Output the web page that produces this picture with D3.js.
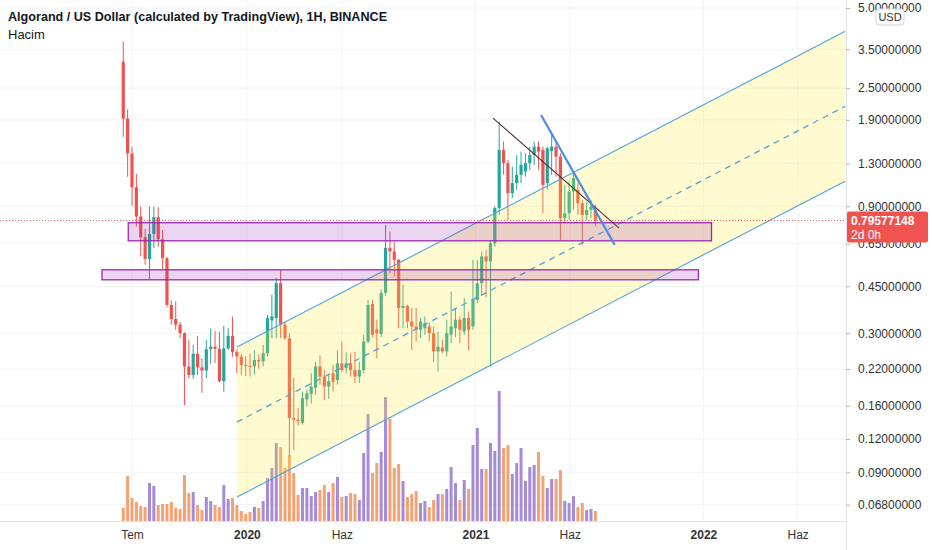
<!DOCTYPE html>
<html>
<head>
<meta charset="utf-8">
<script src="https://cdn.jsdelivr.net/npm/d3@7"></script>
<style>
  body { margin: 0; background: #fff; }
  svg { display: block; font-family: "Liberation Sans", Arial, sans-serif; }
</style>
</head>
<body>
<div class="chart"></div>
<script>
// weekly ALGO/USD candles, first week starting 2019-06-17
const firstWeek = "2019-06-17";
const opens = [3.14,1.92,1.42,1.06,0.823,0.688,0.570,0.708,0.819,0.676,0.574,0.383,0.339,0.323,0.300,0.225,0.209,0.251,0.223,0.217,
  0.261,0.267,0.262,0.198,0.263,0.293,0.255,0.245,0.228,0.226,0.225,0.238,0.235,0.252,0.335,0.342,0.462,0.323,0.287,0.144,
  0.142,0.138,0.169,0.177,0.187,0.225,0.206,0.189,0.212,0.200,0.231,0.222,0.231,0.218,0.206,0.218,0.279,0.386,0.310,0.298,
  0.425,0.628,0.608,0.566,0.373,0.380,0.332,0.318,0.309,0.313,0.318,0.300,0.256,0.265,0.256,0.296,0.313,0.337,0.304,0.342,
  0.318,0.400,0.462,0.583,0.558,0.653,0.887,1.465,1.306,1.008,1.099,1.180,1.215,1.306,1.402,1.507,1.465,1.099,1.450,1.507,
  1.382,0.812,0.847,1.022,1.037,0.924,0.834,0.872,0.872];
const highs = [3.74,2.08,1.50,1.19,0.897,0.738,0.897,0.897,0.892,0.733,0.580,0.398,0.395,0.330,0.302,0.283,0.271,0.293,0.241,0.283,
  0.312,0.305,0.304,0.320,0.313,0.346,0.262,0.250,0.246,0.251,0.259,0.250,0.271,0.352,0.418,0.483,0.519,0.332,0.300,0.204,
  0.157,0.181,0.184,0.212,0.234,0.248,0.218,0.209,0.228,0.259,0.279,0.254,0.252,0.255,0.234,0.296,0.400,0.400,0.337,0.437,
  0.766,0.723,0.662,0.570,0.456,0.383,0.373,0.373,0.342,0.347,0.328,0.318,0.304,0.283,0.337,0.430,0.373,0.347,0.406,0.362,
  0.566,0.566,0.608,0.617,0.673,0.897,1.871,1.574,1.344,1.268,1.402,1.443,1.423,1.507,1.574,1.574,1.507,1.507,1.693,1.552,
  1.423,1.082,1.115,1.208,1.099,0.951,0.937,0.951,0.911];
const lows = [1.64,1.16,0.902,0.755,0.583,0.542,0.476,0.626,0.634,0.522,0.376,0.323,0.309,0.287,0.161,0.203,0.202,0.209,0.179,0.203,
  0.230,0.232,0.196,0.181,0.259,0.245,0.212,0.209,0.207,0.206,0.209,0.221,0.225,0.245,0.287,0.287,0.287,0.283,0.103,0.109,
  0.135,0.136,0.159,0.163,0.176,0.192,0.168,0.170,0.181,0.192,0.214,0.212,0.206,0.195,0.195,0.212,0.275,0.290,0.241,0.290,
  0.415,0.504,0.490,0.313,0.313,0.313,0.259,0.279,0.287,0.296,0.279,0.234,0.215,0.252,0.245,0.275,0.290,0.275,0.296,0.259,
  0.309,0.390,0.415,0.409,0.2245,0.634,0.834,1.180,0.800,0.965,1.037,1.099,1.163,1.233,1.287,1.233,0.847,1.037,1.180,1.163,
  0.673,0.778,0.800,0.872,0.834,0.644,0.800,0.812,0.755];
const closes = [1.92,1.42,1.06,0.823,0.688,0.570,0.708,0.819,0.676,0.574,0.383,0.339,0.323,0.300,0.225,0.209,0.251,0.223,0.217,0.261,
  0.267,0.262,0.198,0.263,0.293,0.255,0.245,0.228,0.226,0.225,0.238,0.235,0.252,0.342,0.347,0.462,0.323,0.287,0.144,0.142,
  0.140,0.171,0.178,0.189,0.225,0.206,0.189,0.198,0.197,0.231,0.218,0.231,0.218,0.206,0.218,0.279,0.383,0.296,0.300,0.425,
  0.628,0.608,0.566,0.373,0.380,0.332,0.318,0.309,0.332,0.328,0.300,0.256,0.267,0.256,0.300,0.318,0.337,0.309,0.342,0.309,
  0.400,0.462,0.583,0.558,0.653,0.887,1.465,1.306,1.008,1.099,1.180,1.287,1.306,1.402,1.507,1.443,1.082,1.486,1.507,1.382,
  0.812,0.847,1.022,1.147,0.924,0.834,0.872,0.897,0.79577148];
// volume, millions
const volumes = [13,45,23,19,15,14,38,35,16,17,17,19,13,12,46,28,29,16,11,24,
  20,16,14,36,22,23,16,10,7,9,14,13,20,43,53,78,74,53,66,48,
  26,33,33,25,29,31,36,29,38,44,24,25,28,27,21,68,107,48,58,69,
  124,102,53,57,40,24,27,30,18,20,14,21,27,27,32,54,38,21,41,32,
  76,93,52,52,78,70,130,73,76,47,58,73,40,54,56,69,45,33,42,42,
  51,20,18,25,14,18,11,12,10];

const priceTicks = [5, 3.5, 2.5, 1.9, 1.3, 0.9, 0.65, 0.45, 0.3, 0.22, 0.16, 0.12, 0.09, 0.068];
const timeTicks = ["2019-07-01","2020-01-01","2020-06-01","2021-01-01","2021-06-01","2022-01-01","2022-06-01"];
const timeLabels = ["Tem","2020","Haz","2021","Haz","2022","Haz"];
const lastPrice = 0.79577148;

// drawings
const channelDates = ["2019-12-16","2022-08-16"];
const channelUpper = [0.266, 4.085];
const channelMid = [0.139, 2.136];
const channelLower = [0.0727, 1.117];
const zoneDates = [["2019-06-25","2022-01-14"],["2019-05-14","2021-12-24"]];
const zonePrices = [[0.780, 0.667],[0.519, 0.476]];
const darkLineDates = ["2021-01-29","2021-08-19"];
const darkLinePrices = [1.927, 0.744];
const blueLineDates = ["2021-04-16","2021-08-12"];
const blueLinePrices = [1.982, 0.644];

const W = 932, H = 550, plotR = 846, plotB = 521;
const parse = d3.utcParse("%Y-%m-%d");

const svg = d3.select(".chart").append("svg")
    .attr("width", W)
    .attr("height", H);

const x = d3.scaleUtc()
    .domain([parse("2019-07-01"), parse("2022-06-01")])
    .range([132, 797.7]);

const y = d3.scaleLog()
    .domain([0.068, 5])
    .range([504.7, 8]);

const v = d3.scaleLinear()
    .domain([0, d3.max(volumes)])
    .range([plotB, 391]);

const start = parse(firstWeek);
const candles = opens.map((o, i) => ({
    date: d3.utcDay.offset(start, 7 * i),
    o: o, h: highs[i], l: lows[i], c: closes[i], vol: volumes[i]
}));

svg.append("defs").append("clipPath").attr("id", "plot")
    .append("rect").attr("width", plotR).attr("height", plotB);

// grid
const grid = svg.append("g");
grid.selectAll(".hg").data(priceTicks).enter().append("line")
    .attr("x1", 0).attr("x2", plotR)
    .attr("y1", d => y(d)).attr("y2", d => y(d))
    .attr("stroke", "#f0f3fa");
grid.selectAll(".vg").data(timeTicks).enter().append("line")
    .attr("x1", d => x(parse(d))).attr("x2", d => x(parse(d)))
    .attr("y1", 0).attr("y2", plotB)
    .attr("stroke", "#f0f3fa");

const plot = svg.append("g").attr("clip-path", "url(#plot)");

// volume
plot.selectAll(".vol").data(candles).enter().append("rect")
    .attr("x", d => x(d.date) - 1.5)
    .attr("width", 3)
    .attr("y", d => v(d.vol))
    .attr("height", d => plotB - v(d.vol))
    .attr("fill", d => d.c >= d.o ? "#a58bd8" : "#f4a272");

// candles
const up = "#26a69a", down = "#ef5350";
plot.selectAll(".wick").data(candles).enter().append("line")
    .attr("x1", d => x(d.date)).attr("x2", d => x(d.date))
    .attr("y1", d => y(d.h)).attr("y2", d => y(d.l))
    .attr("stroke", d => d.c >= d.o ? up : down)
    .attr("stroke-width", 1);
plot.selectAll(".body").data(candles).enter().append("rect")
    .attr("x", d => x(d.date) - 1.6)
    .attr("width", 3.2)
    .attr("y", d => y(Math.max(d.o, d.c)))
    .attr("height", d => Math.max(1, Math.abs(y(d.o) - y(d.c))))
    .attr("fill", d => d.c >= d.o ? up : down);

// parallel channel
const cd = channelDates.map(parse);
const area = [
    [x(cd[0]), y(channelUpper[0])], [x(cd[1]), y(channelUpper[1])],
    [x(cd[1]), y(channelLower[1])], [x(cd[0]), y(channelLower[0])]
];
plot.append("path")
    .attr("d", d3.line()(area) + "Z")
    .attr("fill", "rgba(255,235,59,0.24)");
[channelUpper, channelLower].forEach(p => {
    plot.append("line")
        .attr("x1", x(cd[0])).attr("y1", y(p[0]))
        .attr("x2", x(cd[1])).attr("y2", y(p[1]))
        .attr("stroke", "#4ea5d9").attr("stroke-width", 1.1);
});
plot.append("line")
    .attr("x1", x(cd[0])).attr("y1", y(channelMid[0]))
    .attr("x2", x(cd[1])).attr("y2", y(channelMid[1]))
    .attr("stroke", "#4ea5d9").attr("stroke-width", 1.3)
    .attr("stroke-dasharray", "6,5");

// zones
plot.selectAll(".zone").data(zonePrices).enter().append("rect")
    .attr("x", (d, i) => x(parse(zoneDates[i][0])))
    .attr("width", (d, i) => x(parse(zoneDates[i][1])) - x(parse(zoneDates[i][0])))
    .attr("y", d => y(d[0]))
    .attr("height", d => y(d[1]) - y(d[0]))
    .attr("fill", "rgba(156,39,176,0.2)")
    .attr("stroke", "#9c27b0").attr("stroke-width", 1.3);

// trend lines
plot.append("line")
    .attr("x1", x(parse(darkLineDates[0]))).attr("y1", y(darkLinePrices[0]))
    .attr("x2", x(parse(darkLineDates[1]))).attr("y2", y(darkLinePrices[1]))
    .attr("stroke", "#5b2f2a").attr("stroke-width", 1.1);
plot.append("line")
    .attr("x1", x(parse(blueLineDates[0]))).attr("y1", y(blueLinePrices[0]))
    .attr("x2", x(parse(blueLineDates[1]))).attr("y2", y(blueLinePrices[1]))
    .attr("stroke", "#4a8ee6").attr("stroke-width", 2.2);

// last price line
plot.append("line")
    .attr("x1", 0).attr("x2", plotR)
    .attr("y1", y(lastPrice)).attr("y2", y(lastPrice))
    .attr("stroke", down).attr("stroke-dasharray", "1,2");

// axes borders
svg.append("line").attr("x1", plotR + 0.5).attr("x2", plotR + 0.5)
    .attr("y1", 0).attr("y2", H).attr("stroke", "#e0e3eb");
svg.append("line").attr("x1", 0).attr("x2", plotR)
    .attr("y1", plotB + 0.5).attr("y2", plotB + 0.5).attr("stroke", "#e0e3eb");

// price axis
const yAxis = svg.append("g").attr("transform", `translate(${plotR},0)`)
    .call(d3.axisRight(y).tickValues(priceTicks).tickFormat(d3.format(".8f")).tickSize(4).tickPadding(8));
yAxis.select(".domain").remove();
yAxis.selectAll("line").attr("stroke", "#b2b5be");
yAxis.selectAll("text").attr("fill", "#333").attr("font-size", 12)
    .attr("font-family", "Liberation Sans, Arial, sans-serif");

// time axis
const xAxis = svg.append("g").attr("transform", `translate(0,${plotB})`)
    .call(d3.axisBottom(x).tickValues(timeTicks.map(parse))
        .tickFormat((d, i) => timeLabels[i]).tickSize(0).tickPadding(9));
xAxis.select(".domain").remove();
xAxis.selectAll("text").attr("fill", "#333").attr("font-size", 12)
    .attr("font-family", "Liberation Sans, Arial, sans-serif")
    .attr("font-weight", (d, i) => /^\d/.test(timeLabels[i]) ? "bold" : "normal");

// last price label
const ly = y(lastPrice);
svg.append("rect").attr("x", plotR + 1).attr("y", ly - 9).attr("width", 81).attr("height", 31)
    .attr("rx", 2).attr("fill", down);
svg.append("text").attr("x", plotR + 5).attr("y", ly + 4.5)
    .attr("fill", "#fff").attr("font-size", 12).attr("font-weight", "bold")
    .text(d3.format(".8f")(lastPrice));
svg.append("text").attr("x", plotR + 5).attr("y", ly + 19)
    .attr("fill", "#fff").attr("font-size", 12)
    .text("2d 0h");

// currency button
svg.append("rect").attr("x", 876).attr("y", 9).attr("width", 28).attr("height", 16).attr("rx", 3)
    .attr("fill", "#fff").attr("stroke", "#d1d4dc");
svg.append("text").attr("x", 890).attr("y", 21).attr("text-anchor", "middle")
    .attr("fill", "#333").attr("font-size", 11).text("USD");

// header
svg.append("text").attr("x", 8).attr("y", 21)
    .attr("fill", "#131722").attr("font-size", 12.6).attr("font-weight", "bold")
    .text("Algorand / US Dollar (calculated by TradingView), 1H, BINANCE");
svg.append("text").attr("x", 8).attr("y", 39)
    .attr("fill", "#131722").attr("font-size", 13)
    .text("Hacim");
</script>
</body>
</html>
